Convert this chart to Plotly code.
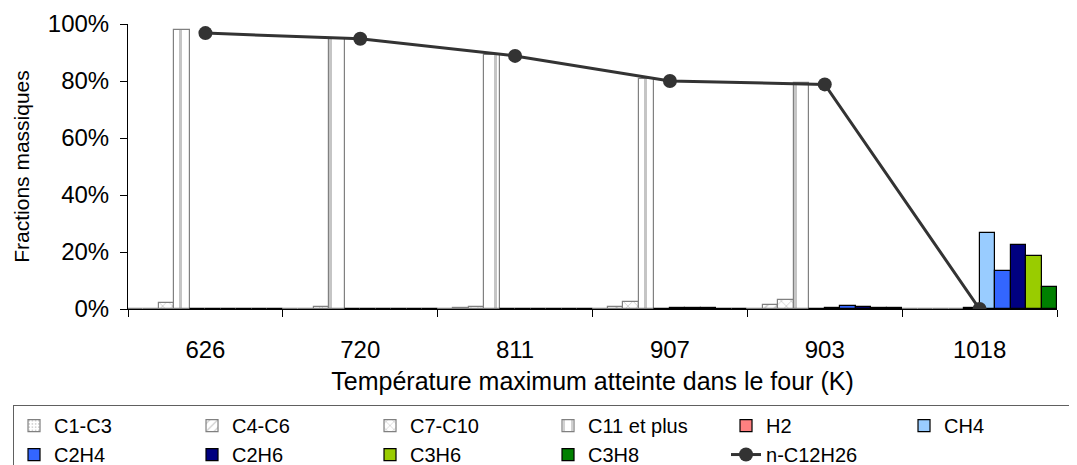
import plotly.graph_objects as go

categories = ["626", "720", "811", "907", "903", "1018"]

c1_c3 = [0.0, 0.0, 0.0, 0.0, 0.0, 0.0]
c4_c6 = [0.0, 0.1, 0.2, 0.6, 1.3, 0.0]
c7_c10 = [2.0, 0.7, 0.8, 2.3, 3.1, 0.0]
c11_plus = [97.8, 94.8, 89.2, 80.6, 79.4, 0.0]
h2 = [0.0, 0.0, 0.0, 0.1, 0.1, 0.3]
ch4 = [0.0, 0.0, 0.0, 0.2, 0.3, 26.6]
c2h4 = [0.0, 0.0, 0.0, 0.2, 0.9, 13.3]
c2h6 = [0.0, 0.0, 0.0, 0.2, 0.6, 22.3]
c3h6 = [0.0, 0.0, 0.0, 0.1, 0.4, 18.7]
c3h8 = [0.0, 0.0, 0.0, 0.1, 0.3, 7.8]
n_c12h26 = [96.8, 94.8, 88.8, 80.0, 78.8, 0.0]

def pct(v):
    return [x / 100.0 for x in v]

fig = go.Figure()

pattern_series = [
    ("C1-C3", c1_c3, ".", 4),
    ("C4-C6", c4_c6, "/", 7),
    ("C7-C10", c7_c10, "x", 7),
    ("C11 et plus", c11_plus, "|", 15),
]
for name, vals, shape, size in pattern_series:
    fig.add_trace(go.Bar(
        name=name, x=categories, y=pct(vals),
        marker=dict(color="white",
                    line=dict(color="#808080", width=1.2),
                    pattern=dict(shape=shape, fgcolor="#8c8c8c", bgcolor="white",
                                 size=size, solidity=0.2, fillmode="overlay")),
    ))

solid_series = [
    ("H2", h2, "#FF8080"),
    ("CH4", ch4, "#99CCFF"),
    ("C2H4", c2h4, "#3366FF"),
    ("C2H6", c2h6, "#000080"),
    ("C3H6", c3h6, "#99CC00"),
    ("C3H8", c3h8, "#008000"),
]
for name, vals, col in solid_series:
    fig.add_trace(go.Bar(
        name=name, x=categories, y=pct(vals),
        marker=dict(color=col, line=dict(color="black", width=1.2)),
    ))

fig.add_trace(go.Scatter(
    name="n-C12H26", x=categories, y=pct(n_c12h26), mode="lines+markers",
    line=dict(color="#333333", width=3),
    marker=dict(color="#333333", size=14),
))

fig.update_layout(
    width=1250, height=485,
    margin=dict(l=120, r=201, t=16, b=184),
    paper_bgcolor="white", plot_bgcolor="white",
    barmode="group", bargap=0, bargroupgap=0,
    font=dict(family="Liberation Sans, Arial, sans-serif", size=20, color="black"),
    showlegend=True,
    legend=dict(
        orientation="h", xref="paper", yref="paper",
        x=1.028, xanchor="right", y=-0.337, yanchor="top",
        entrywidth=133, entrywidthmode="pixels",
        bordercolor="#606060", borderwidth=1,
        font=dict(size=20), traceorder="normal",
        tracegroupgap=0, itemwidth=30,
    ),
    xaxis=dict(
        type="category", showline=True, linecolor="black", linewidth=1,
        ticks="outside", tickson="boundaries", ticklen=7, tickcolor="black",
        showgrid=False, automargin=False,
        tickfont=dict(size=24), ticklabelstandoff=19,
        title=dict(text="Température maximum atteinte dans le four (K)",
                   font=dict(size=25), standoff=10),
    ),
    yaxis=dict(
        range=[0, 1.0], tickformat=".0%", dtick=0.2,
        showline=True, linecolor="black", linewidth=1,
        ticks="outside", ticklen=7, tickcolor="black",
        showgrid=False, zeroline=False, automargin=False,
        tickfont=dict(size=24), ticklabelstandoff=6,
        title=dict(text="Fractions massiques", font=dict(size=21), standoff=12),
    ),
)

fig.write_html("out.html")
